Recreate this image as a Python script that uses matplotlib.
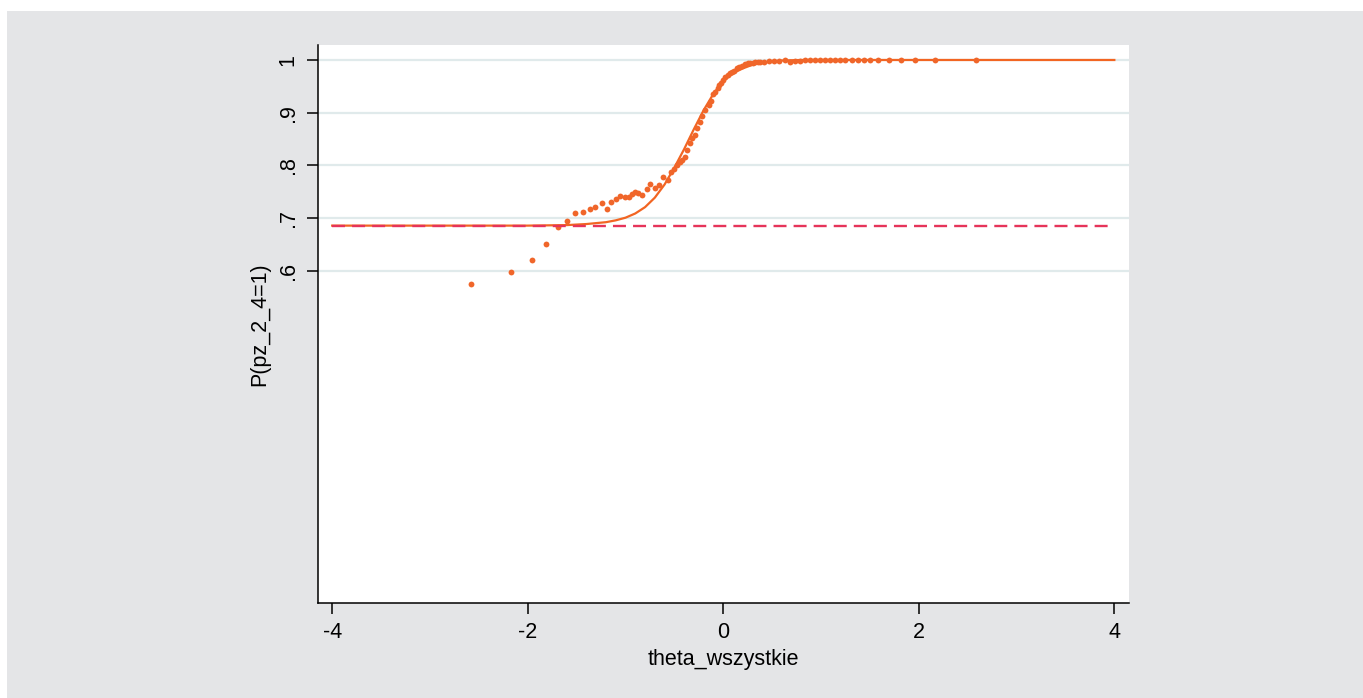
import matplotlib
matplotlib.use("Agg")
import matplotlib.pyplot as plt
from matplotlib.patches import Rectangle

plt.rcParams['font.family'] = ['Liberation Sans', 'DejaVu Sans']
plt.rcParams['axes.unicode_minus'] = False

# fitted item characteristic curve
curve_x = [-4.0, -3.0, -2.0, -1.6, -1.4, -1.2, -1.1, -1.0, -0.9, -0.8, -0.7, -0.6,
           -0.5, -0.4, -0.3, -0.2, -0.1, 0.0, 0.1, 0.2, 0.3, 0.4, 0.5, 0.6, 0.8,
           1.0, 2.0, 3.0, 4.0]
curve_y = [0.686, 0.686, 0.686, 0.687, 0.689, 0.6925, 0.696, 0.701, 0.709, 0.721,
           0.739, 0.764, 0.796, 0.831, 0.869, 0.905, 0.936, 0.960, 0.975, 0.984,
           0.991, 0.995, 0.997, 0.999, 1.0, 1.0, 1.0, 1.0, 1.0]

# observed proportions
obs_x = [-2.579, -2.173, -1.958, -1.812, -1.692, -1.597, -1.515, -1.436, -1.368,
         -1.310, -1.245, -1.194, -1.146, -1.102, -1.054, -1.010, -0.969, -0.935,
         -0.901, -0.867, -0.826, -0.781, -0.747, -0.703, -0.655, -0.621, -0.566,
         -0.535, -0.508, -0.474, -0.440, -0.423, -0.395, -0.372, -0.344, -0.320,
         -0.293, -0.269, -0.242, -0.218, -0.184, -0.150, -0.126, -0.106, -0.080,
         -0.058, -0.040, -0.020, 0.000, 0.020, 0.045, 0.065, 0.085, 0.106, 0.140,
         0.165, 0.191, 0.225, 0.250, 0.276, 0.300, 0.328, 0.355, 0.379, 0.420,
         0.464, 0.515, 0.566, 0.635, 0.686, 0.737, 0.788, 0.839, 0.890, 0.942,
         0.993, 1.044, 1.095, 1.146, 1.198, 1.249, 1.317, 1.375, 1.443, 1.505,
         1.580, 1.693, 1.822, 1.965, 2.170, 2.586]
obs_y = [0.576, 0.599, 0.621, 0.651, 0.684, 0.695, 0.709, 0.711, 0.718,
         0.722, 0.728, 0.717, 0.731, 0.737, 0.743, 0.741, 0.740, 0.746,
         0.749, 0.747, 0.744, 0.755, 0.765, 0.757, 0.763, 0.778, 0.773,
         0.788, 0.793, 0.801, 0.806, 0.810, 0.816, 0.829, 0.842, 0.852,
         0.858, 0.872, 0.883, 0.894, 0.905, 0.915, 0.923, 0.936, 0.940,
         0.946, 0.952, 0.957, 0.962, 0.967, 0.971, 0.975, 0.978, 0.980, 0.984,
         0.987, 0.989, 0.992, 0.994, 0.995, 0.995, 0.996, 0.996, 0.996, 0.997,
         0.998, 0.999, 0.999, 1.0, 0.997, 0.999, 0.999, 1.0, 1.0, 1.0,
         1.0, 1.0, 1.0, 1.0, 1.0, 1.0, 1.0, 1.0, 1.0, 1.0,
         1.0, 1.0, 1.0, 1.0, 1.0, 1.0]

guess_level = 0.686
x_ticks = [-4, -2, 0, 2, 4]
y_ticks = [0.6, 0.7, 0.8, 0.9, 1.0]
y_ticklabels = ['.6', '.7', '.8', '.9', '1']

orange = '#f26522'
fig = plt.figure(figsize=(13.63, 6.98), dpi=100, facecolor='white')
fig.patches.append(Rectangle((7 / 1363, 0), 1, (698 - 11) / 698,
                             transform=fig.transFigure, facecolor='#e4e5e7',
                             edgecolor='none', zorder=-10))

ax = fig.add_axes([318 / 1363, 95 / 698, 811 / 1363, 558 / 698])
ax.set_facecolor('white')

ax.plot(curve_x, curve_y, color=orange, lw=1.6, zorder=3)
ax.plot(obs_x, obs_y, 'o', color='#f0662a', ms=4.2, mew=0, zorder=4)
ax.plot([-4, 4], [guess_level, guess_level], color='#e6345a', lw=1.7,
        dashes=(5.5, 3), zorder=5)

ax.set_xlim(-4.145, 4.15)
ax.set_ylim(-0.0294, 1.0284)
ax.set_xticks(x_ticks)
ax.set_yticks(y_ticks)
ax.set_yticklabels(y_ticklabels, rotation=90, va='center')
ax.grid(axis='y', color='#e0eaeb', lw=1.6)
ax.set_axisbelow(True)

for side in ['top', 'right']:
    ax.spines[side].set_visible(False)
for side in ['left', 'bottom']:
    ax.spines[side].set_linewidth(1.1)
ax.tick_params(length=8, width=1.1, labelsize=15.5, pad=6)

ax.set_xlabel('theta_wszystkie', fontsize=15.5, labelpad=4)
ax.set_ylabel('P(pz_2_4=1)', fontsize=15.5, labelpad=5)

fig.savefig('out.png', dpi=100, facecolor=fig.get_facecolor())
